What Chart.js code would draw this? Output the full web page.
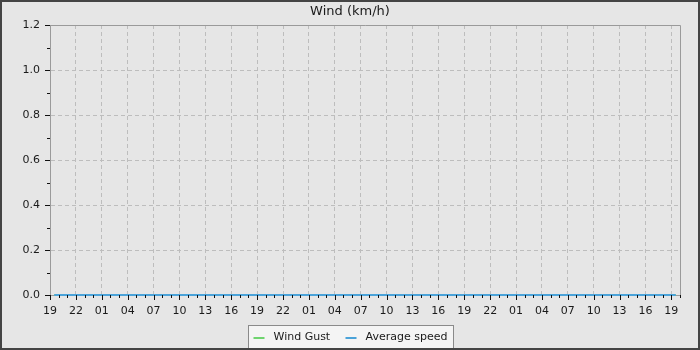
<!DOCTYPE html>
<html>
<head>
<meta charset="utf-8">
<title>Wind (km/h)</title>
<script src="https://cdn.jsdelivr.net/npm/chart.js@4.4.0/dist/chart.umd.min.js"></script>
<style>
    html, body { margin: 0; padding: 0; background: #e6e6e6; }
    canvas { display: block; }
</style>
</head>
<body>
<canvas id="windChart" width="700" height="350"></canvas>
<script>
// Hours since 19:00 of the first day
const hoursFromStart = [
    0.5, 1.5, 2.5, 3.5, 4.5, 5.5, 6.5, 7.5, 8.5, 9.5, 10.5, 11.5,
    12.5, 13.5, 14.5, 15.5, 16.5, 17.5, 18.5, 19.5, 20.5, 21.5, 22.5, 23.5,
    24.5, 25.5, 26.5, 27.5, 28.5, 29.5, 30.5, 31.5, 32.5, 33.5, 34.5, 35.5,
    36.5, 37.5, 38.5, 39.5, 40.5, 41.5, 42.5, 43.5, 44.5, 45.5, 46.5, 47.5,
    48.5, 49.5, 50.5, 51.5, 52.5, 53.5, 54.5, 55.5, 56.5, 57.5, 58.5, 59.5,
    60.5, 61.5, 62.5, 63.5, 64.5, 65.5, 66.5, 67.5, 68.5, 69.5, 70.5, 71.5,
    72.5
];

const windGust = [
    0, 0, 0, 0, 0, 0, 0, 0, 0, 0, 0, 0,
    0, 0, 0, 0, 0, 0, 0, 0, 0, 0, 0, 0,
    0, 0, 0, 0, 0, 0, 0, 0, 0, 0, 0, 0,
    0, 0, 0, 0, 0, 0, 0, 0, 0, 0, 0, 0,
    0, 0, 0, 0, 0, 0, 0, 0, 0, 0, 0, 0,
    0, 0, 0, 0, 0, 0, 0, 0, 0, 0, 0, 0,
    0
];

const averageSpeed = [
    0, 0, 0, 0, 0, 0, 0, 0, 0, 0, 0, 0,
    0, 0, 0, 0, 0, 0, 0, 0, 0, 0, 0, 0,
    0, 0, 0, 0, 0, 0, 0, 0, 0, 0, 0, 0,
    0, 0, 0, 0, 0, 0, 0, 0, 0, 0, 0, 0,
    0, 0, 0, 0, 0, 0, 0, 0, 0, 0, 0, 0,
    0, 0, 0, 0, 0, 0, 0, 0, 0, 0, 0, 0,
    0
];

// One label every 3 hours
const hourLabels = [
    '19', '22', '01', '04', '07', '10', '13', '16',
    '19', '22', '01', '04', '07', '10', '13', '16',
    '19', '22', '01', '04', '07', '10', '13', '16',
    '19'
];

const isMajorX = v => v % 3 === 0;
const isMajorY = v => Math.round(v * 10) % 2 === 0;

// Background, plot frame, tick marks, title, legend and outer border
const decorations = {
    id: 'decorations',
    beforeDraw(chart) {
        const ctx = chart.ctx;
        ctx.save();
        ctx.fillStyle = '#e6e6e6';
        ctx.fillRect(0, 0, chart.width, chart.height);
        ctx.restore();
    },
    afterDraw(chart) {
        const { ctx, chartArea: a, scales: { x, y } } = chart;
        ctx.save();

        // top and right border of the plot
        ctx.strokeStyle = '#9a9a9a';
        ctx.lineWidth = 1;
        ctx.beginPath();
        ctx.moveTo(a.left, a.top + 0.5);
        ctx.lineTo(a.right + 0.5, a.top + 0.5);
        ctx.lineTo(a.right + 0.5, a.bottom);
        ctx.stroke();

        // tick marks (major and minor)
        ctx.strokeStyle = '#111';
        ctx.beginPath();
        x.ticks.forEach(t => {
            const px = Math.round(x.getPixelForValue(t.value)) + 0.5;
            const len = isMajorX(t.value) ? 5 : 3;
            ctx.moveTo(px, a.bottom);
            ctx.lineTo(px, a.bottom + len);
        });
        y.ticks.forEach(t => {
            const py = Math.round(y.getPixelForValue(t.value)) + 0.5;
            const len = isMajorY(t.value) ? 5 : 3;
            ctx.moveTo(a.left - len, py);
            ctx.lineTo(a.left, py);
        });
        ctx.stroke();

        // title
        ctx.fillStyle = '#1a1a1a';
        ctx.font = '13px "DejaVu Sans"';
        ctx.textAlign = 'center';
        ctx.textBaseline = 'middle';
        ctx.fillText('Wind (km/h)', 350, 12);

        // legend box
        const boxX = 248.5, boxY = 325.5, boxW = 205, boxH = 24;
        ctx.fillStyle = '#f4f4f4';
        ctx.fillRect(boxX, boxY, boxW, boxH);
        ctx.strokeStyle = '#8a8a8a';
        ctx.lineWidth = 1;
        ctx.strokeRect(boxX, boxY, boxW, boxH);

        // legend entries
        ctx.font = '11px "DejaVu Sans"';
        ctx.textAlign = 'left';
        const itemOffsets = [5, 97];
        chart.data.datasets.forEach((ds, i) => {
            const sx = boxX + itemOffsets[i];
            ctx.strokeStyle = ds.borderColor;
            ctx.lineWidth = 2;
            ctx.beginPath();
            ctx.moveTo(sx, 338);
            ctx.lineTo(sx + 11, 338);
            ctx.stroke();
            ctx.fillStyle = '#1a1a1a';
            ctx.fillText(ds.label, sx + 20, 337);
        });

        // outer border
        ctx.strokeStyle = '#444';
        ctx.lineWidth = 2;
        ctx.strokeRect(1, 1, chart.width - 2, chart.height - 2);
        ctx.restore();
    }
};

const tickFont = { family: 'DejaVu Sans', size: 11 };

const ctx = document.getElementById('windChart').getContext('2d');
const windChart = new Chart(ctx, {
    type: 'line',
    data: {
        labels: hoursFromStart,
        datasets: [
            {
                label: 'Wind Gust',
                data: hoursFromStart.map((h, i) => ({ x: h, y: windGust[i] })),
                borderColor: '#6fd46f',
                borderWidth: 2,
                pointRadius: 0,
                order: 2,
                clip: false
            },
            {
                label: 'Average speed',
                data: hoursFromStart.map((h, i) => ({ x: h, y: averageSpeed[i] })),
                borderColor: '#4ba3d9',
                borderWidth: 2,
                pointRadius: 0,
                order: 1,
                clip: false
            }
        ]
    },
    options: {
        responsive: false,
        animation: false,
        layout: { padding: { top: 25, right: 20, left: 0, bottom: 0 } },
        plugins: {
            legend: { display: false },
            title: { display: false },
            tooltip: { enabled: false }
        },
        scales: {
            x: {
                type: 'linear',
                min: 0,
                max: 73,
                afterFit: s => { s.height = 55; },
                grid: {
                    drawTicks: false,
                    color: c => (c.tick && isMajorX(c.tick.value) && c.tick.value > 0) ? '#bdbdbd' : 'transparent'
                },
                border: { color: '#9a9a9a', dash: [4, 3] },
                ticks: {
                    stepSize: 1,
                    autoSkip: false,
                    maxRotation: 0,
                    padding: 10,
                    color: '#1a1a1a',
                    font: tickFont,
                    callback: v => isMajorX(v) ? hourLabels[v / 3] : ''
                }
            },
            y: {
                min: 0,
                max: 1.2,
                afterFit: s => { s.width = 50; },
                grid: {
                    drawTicks: false,
                    color: c => (c.tick && isMajorY(c.tick.value) && c.tick.value > 0.01 && c.tick.value < 1.19) ? '#bdbdbd' : 'transparent'
                },
                border: { color: '#9a9a9a', dash: [4, 3] },
                ticks: {
                    stepSize: 0.1,
                    autoSkip: false,
                    padding: 10,
                    color: '#1a1a1a',
                    font: tickFont,
                    callback: v => isMajorY(v) ? v.toFixed(1) : ''
                }
            }
        }
    },
    plugins: [decorations]
});
</script>
</body>
</html>
